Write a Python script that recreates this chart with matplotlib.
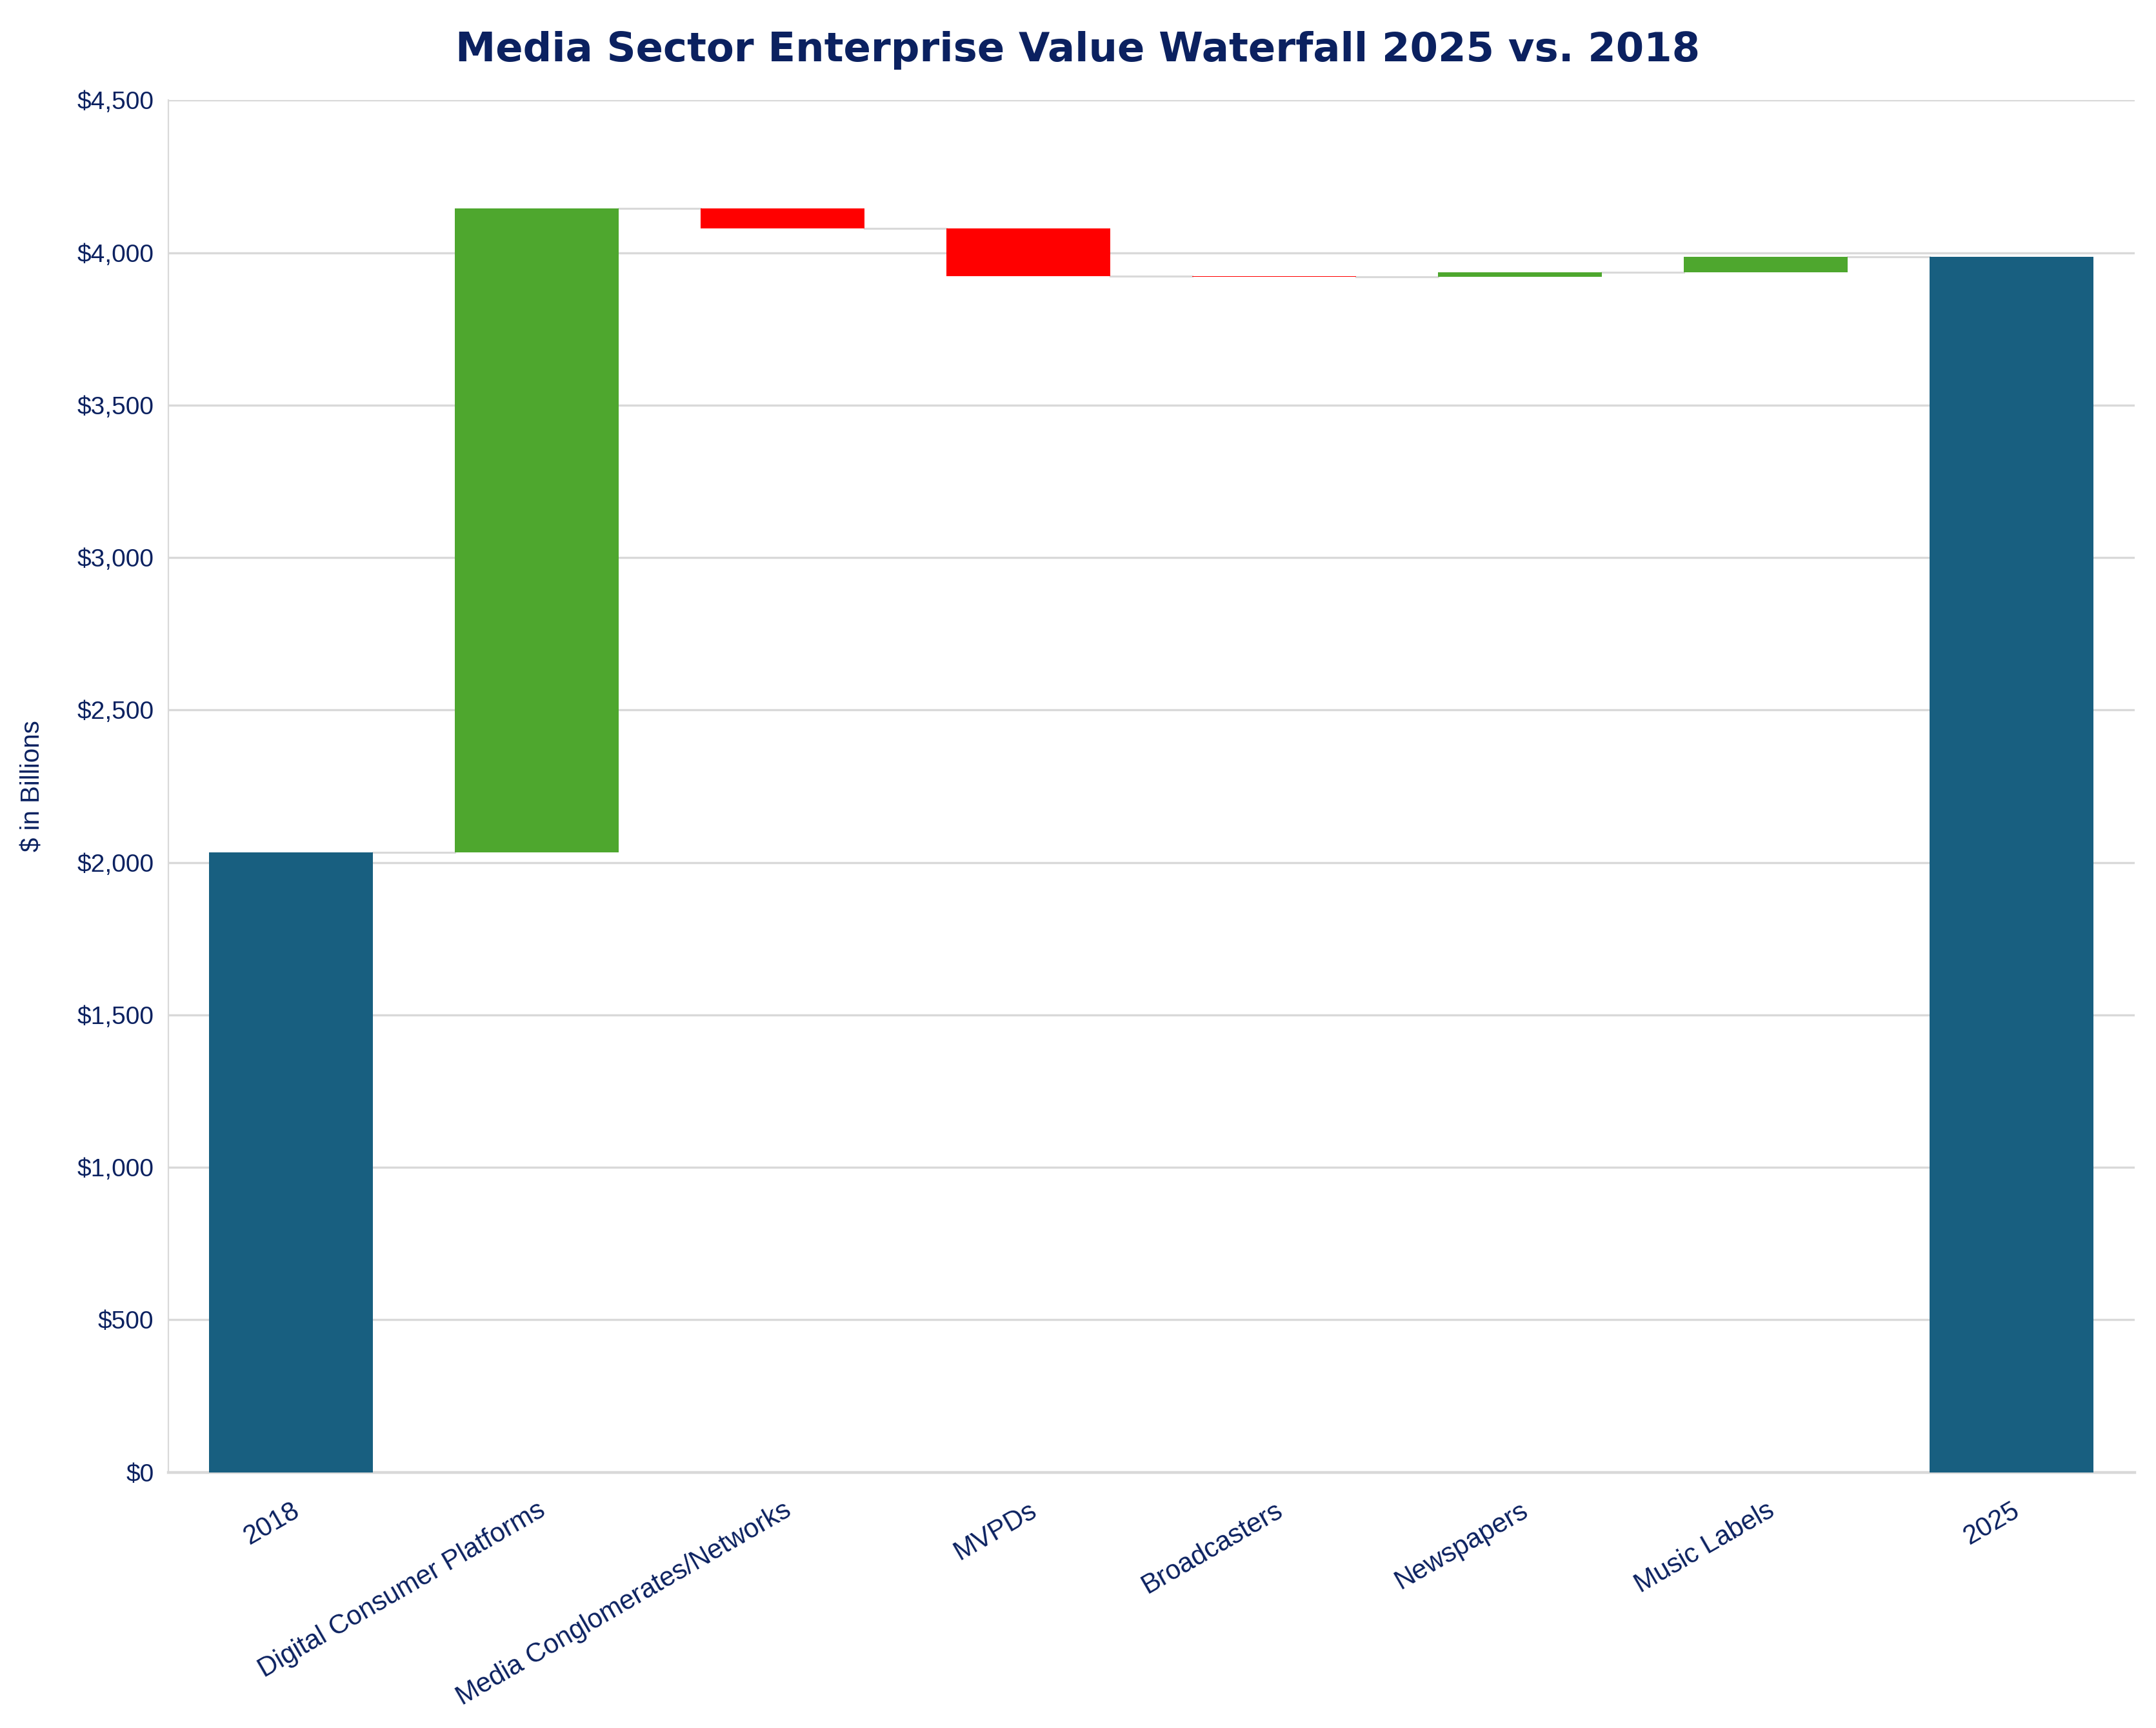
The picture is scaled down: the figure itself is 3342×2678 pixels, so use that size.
import numpy as np
import matplotlib.pyplot as plt
from matplotlib.ticker import FuncFormatter

# Waterfall data ($ in billions)
categories = ["2018", "Digital Consumer Platforms", "Media Conglomerates/Networks",
              "MVPDs", "Broadcasters", "Newspapers", "Music Labels", "2025"]
start_value = 2032
changes = [2114, -66, -157, -3, 15, 51]

NAVY = "#0b2160"
BLUE = "#185f80"
GREEN = "#4ea72e"
RED = "#ff0000"
GRID = "#d9d9d9"

plt.rcParams["font.family"] = ["Liberation Sans", "DejaVu Sans"]


def build_bars(start, deltas):
    bottoms, heights, colors = [0], [start], [BLUE]
    level = start
    for d in deltas:
        bottoms.append(min(level, level + d))
        heights.append(abs(d))
        colors.append(GREEN if d >= 0 else RED)
        level += d
    bottoms.append(0)
    heights.append(level)
    colors.append(BLUE)
    return bottoms, heights, colors


def main():
    fig = plt.figure(figsize=(16.71, 13.39), dpi=200)
    ax = fig.add_axes([0.078, 0.148, 0.912, 0.794])

    bottoms, heights, colors = build_bars(start_value, changes)
    x = np.arange(len(categories))
    width = 0.665

    ax.bar(x, heights, bottom=bottoms, width=width, color=colors, zorder=3)

    # connector lines between bars
    levels = np.cumsum([start_value] + changes)
    for i, lv in enumerate(levels):
        ax.plot([x[i] + width / 2, x[i + 1] - width / 2], [lv, lv],
                color=GRID, linewidth=1.1, zorder=2)

    ax.set_xlim(-0.5, len(categories) - 0.5)
    ax.set_ylim(0, 4500)
    ax.set_yticks(np.arange(0, 4501, 500))
    ax.yaxis.set_major_formatter(FuncFormatter(lambda v, p: f"${v:,.0f}"))
    ax.grid(axis="y", color=GRID, linewidth=1.2, zorder=0)
    ax.set_axisbelow(True)

    for s in ["top", "right"]:
        ax.spines[s].set_visible(False)
    ax.spines["left"].set_color(GRID)
    ax.spines["left"].set_linewidth(0.8)
    ax.spines["bottom"].set_color(GRID)
    ax.spines["bottom"].set_linewidth(1.6)

    ax.set_xticks(x)
    ax.set_xticklabels(categories, rotation=30, ha="right", rotation_mode="anchor")
    ax.tick_params(axis="both", length=0, labelcolor=NAVY)
    ax.tick_params(axis="x", pad=14, labelsize=15)
    ax.tick_params(axis="y", pad=8, labelsize=14)

    ax.set_ylabel("$ in Billions", fontsize=14.5, color=NAVY, labelpad=18)

    fig.text(0.5, 0.971, "Media Sector Enterprise Value Waterfall 2025 vs. 2018",
             ha="center", va="center", fontsize=22.5, fontweight="bold",
             color=NAVY, family="DejaVu Sans")

    fig.savefig("out.png", dpi=200)
    plt.close(fig)


if __name__ == "__main__":
    main()
